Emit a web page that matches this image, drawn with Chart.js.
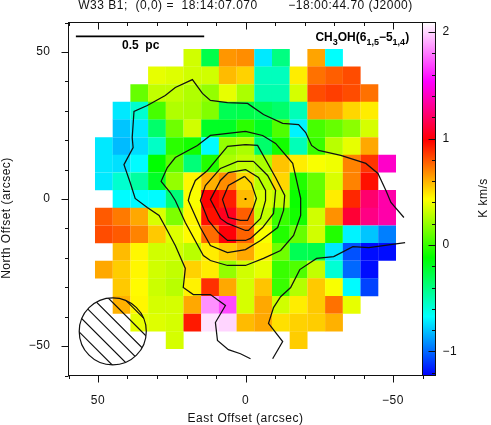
<!DOCTYPE html>
<html>
<head>
<meta charset="utf-8">
<style>
    body { margin: 0; background: #fff; }
    #mapa { position: absolute; left: 0; top: 0; }
    #barra { position: absolute; left: 422px; top: 0; }
</style>
<script src="https://cdn.jsdelivr.net/npm/chart.js@4/dist/chart.umd.js"></script>
</head>
<body>
<canvas id="mapa" width="491" height="425"></canvas>
<canvas id="barra" width="69" height="425"></canvas>
<script>
// Map grid, arcsec offsets
const xOffsets = [48, 42, 36, 30, 24, 18, 12, 6, 0, -6, -12, -18, -24, -30, -36, -42, -48];
const yOffsets = [48, 42, 36, 30, 24, 18, 12, 6, 0, -6, -12, -18, -24, -30, -36, -42, -48];

// Integrated intensity (K km/s), one row per yOffsets entry
const _ = null;
const cellValues = [
    [_, _, _, _, _, .33, -.28, .66, .68, -.72, -.4, _, .63, -.67, _, _, _],
    [_, _, _, .38, .36, .33, .33, .58, .53, -.53, -.53, .47, .74, .78, .82, _, _],
    [_, _, .1, .3, .3, .26, .2, .38, .25, -.5, -.5, .34, .82, .85, .82, .74, _],
    [_, -.72, -.57, .03, .26, .25, .16, -.3, -.28, -.3, -.35, -.52, .64, .62, .52, .47, _],
    [_, -.8, -.72, -.35, .12, .33, -.2, -.2, -.03, -.2, .05, -.7, .03, .1, .18, .34, _],
    [-.72, -.82, -.75, -.55, -.03, -.08, -.68, .2, .25, -.35, -.08, -.52, 0, .28, .38, .62, _],
    [-.72, -.74, -.68, -.12, .08, -.38, -.05, .25, .3, .25, .56, .47, .42, .4, .7, .87, 1.42],
    [-.72, -.57, -.47, -.2, .2, .45, .6, .68, .52, .28, .52, -.05, .1, .35, .7, .95, _],
    [_, -.68, -.68, -.68, -.38, .42, .98, .92, .58, .35, .3, -.1, .08, .47, .9, 1.22, 1.35],
    [.79, .72, .62, .35, .15, .45, .95, 1.05, .78, .3, 0, -.08, .33, .67, 1.1, 1.27, 1.35],
    [.82, .79, .7, .55, .36, .44, .75, 1, .77, .42, -.05, .1, .33, -.05, -.7, -.8, -.95],
    [_, .58, .45, .33, .33, .28, .47, .55, .62, .46, .12, -.3, -.28, -.72, -1.05, -1.2, -1.2],
    [.62, .54, .45, .33, .3, .53, .47, .2, .33, .38, 0, .05, .3, -.58, -1, -1.2, _],
    [_, .55, .44, .32, .28, .46, .88, .62, .34, .56, 0, .27, .55, .42, -.68, -1.08, _],
    [_, .6, .45, .34, .34, .62, 1.85, 1.7, .34, .62, .33, .47, .55, .74, .38, _, _],
    [_, _, .38, .36, .34, .93, 2.03, 2, .58, .62, .5, .53, .54, .6, _, _, _],
    [_, _, _, _, .34, _, _, _, _, _, _, .54, _, _, _, _, _]
];

// Contours as [x, y] in arcsec
const contourA = [[-53.7, -6.3], [-49.3, -1.2], [-47.6, 2.9], [-44.9, 8.7], [-40.8, 12.1], [-32.3, 14.8], [-24.8, 16.5], [-22.4, 18.2], [-20.4, 22.6], [-18, 25.3], [-12.6, 25.7], [-6.1, 28.7], [-.7, 32.5], [6.1, 32.8], [11.9, 33.5], [14.6, 35.9], [18, 40.6], [23.8, 37.9], [27.2, 35.2], [33.3, 31.8], [37.8, 29.8], [38.4, 20.9], [38.1, 17.5], [41.2, 11.7], [39.1, 5.6], [37.4, .2], [33.3, -2.9], [29.3, -5.6], [26.5, -10.7], [23.8, -15.8], [20.4, -23.6], [21.1, -30.1], [17.7, -32.5], [11.9, -32.5], [6.8, -36.2], [10.2, -42], [9.5, -48.1], [5.8, -51.2], [1.7, -52.6], [-1.7, -54.3]];
const contourB = [[-54.1, -14.8], [-41.8, -16.5], [-36.4, -16.2], [-29.9, -19.6], [-24.1, -20.2], [-18.4, -24], [-15.3, -30.1], [-11.9, -33.2], [-9.5, -36.9], [-7.8, -42.3], [-12.6, -48.5], [-9.2, -54.3]];
const contourC = [[0, 23], [11.9, 21.6], [16.3, 18.2], [23.8, 14.1], [26.5, 10.7], [28.6, 6], [25.5, 2.2], [23.8, -.5], [20.4, -8], [14.3, -19.2], [11.9, -20.9], [6.1, -22.6], [0, -22.6], [-6.1, -20.2], [-11.9, -17.5], [-16.3, -12.4], [-18.7, -5.6], [-18.7, .2], [-16, 12.1], [-10.2, 18.9], [-5.8, 21.6], [0, 23]];
const contourD = [[0, 18.5], [6.1, 17.9], [9.5, 13.8], [12.9, 9.7], [17, 6.3], [18.7, 2.2], [19.4, -.5], [15.3, -9.7], [11.9, -15.8], [6.1, -18.2], [0, -17.2], [-5.1, -14.1], [-10.9, -9.7], [-12.9, -3.9], [-13.3, 1.2], [-10.2, 7.3], [-4.1, 18.2], [0, 18.5]];
const contourE = [[-2.7, 12.8], [2.7, 12.8], [8.5, 10.4], [13.6, 4.6], [15.3, -.5], [12.6, -7.3], [9.2, -11.4], [6.1, -14.1], [0, -14.1], [-1.7, -13.4], [-5.8, -9.7], [-9.5, -4.9], [-10.2, 2.9], [-7.5, 8], [-2.7, 12.8]];
const contourF = [[0, 10], [5.8, 9], [8.5, 6.3], [11.9, -.2], [8.5, -6.6], [6.1, -8.3], [0, -10.7], [-1, -10.7], [-5.1, -6.6], [-6.8, -.5], [-6.8, 2.9], [-4.4, 7.3], [0, 10]];
const contourG = [[.3, 7.7], [5.8, 4.6], [7.8, -.2], [5.8, -6.3], [1.7, -7.3], [-.7, -7.3], [-2.7, -2.9], [-3.7, .2], [-2, 5.3], [.3, 7.7]];
const contours = [contourA, contourB, contourC, contourD, contourE, contourF, contourG];

// Scale bar and beam, arcsec
const scaleBar = [[57.5, 55.3], [14, 55.3]];
const beamCenter = [45, -45];
const beamRadius = 11.4;
const hatchOffsets = [11.6, 6.2, .9, -4.4, -9.8, -15];

// Axis ticks
const axisTicks = [-60, -50, -40, -30, -20, -10, 0, 10, 20, 30, 40, 50, 60];
const axisLabels = [-50, 0, 50];
const barMin = -1.226;
const barMax = 2.09;
const barLabels = [-1, 0, 1, 2];
const barTicks = [-1.2, -1, -.8, -.6, -.4, -.2, 0, .2, .4, .6, .8, 1, 1.2, 1.4, 1.6, 1.8, 2];

// Colour scale: blue, cyan, green, yellow, red, magenta, white
const mapColors = [[0, 0, 255], [0, 255, 255], [0, 255, 0], [255, 255, 0], [255, 0, 0], [255, 0, 255], [255, 255, 255]];

function colorFor(value) {
    const pos = Math.min(Math.max((value - barMin) / (barMax - barMin), 0), 1) * (mapColors.length - 1);
    const i = Math.min(Math.floor(pos), mapColors.length - 2);
    const t = pos - i;
    const rgb = mapColors[i].map((c, k) => Math.round(c + (mapColors[i + 1][k] - c) * t));
    return `rgb(${rgb[0]},${rgb[1]},${rgb[2]})`;
}

function minusLabel(value) {
    return String(value).replace('-', '\u2212');
}

const FONT = 'Liberation Sans';
const INK = '#111';
const SPACING = '0.5px';

// Build the cells
const cellPoints = [];
yOffsets.forEach((y, r) => {
    xOffsets.forEach((x, c) => {
        if (cellValues[r][c] !== null) cellPoints.push({ x: x, y: y, v: cellValues[r][c] });
    });
});

const datasets = [{
    data: cellPoints,
    order: 10,
    pointStyle: 'rect',
    pointRadius: 12.6,
    pointBorderWidth: 0,
    pointBackgroundColor: ctx => colorFor(ctx.raw.v),
    showLine: false
}];

contours.forEach(line => {
    datasets.push({
        data: line.map(p => ({ x: p[0], y: p[1] })),
        order: 1,
        showLine: true,
        pointRadius: 0,
        borderColor: INK,
        borderWidth: 1.25,
        tension: 0
    });
});

datasets.push({
    data: scaleBar.map(p => ({ x: p[0], y: p[1] })),
    order: 1,
    showLine: true,
    pointRadius: 0,
    borderColor: '#000',
    borderWidth: 1.6
});

// Reference position
datasets.push({
    data: [{ x: 0, y: 0 }],
    order: 1,
    pointStyle: 'rect',
    pointRadius: 1.3,
    pointBorderWidth: 0,
    pointBackgroundColor: '#000'
});

// Wider text spacing, as in the original plot
const textSpacing = {
    id: 'textSpacing',
    beforeDraw(chart) {
        chart.ctx.letterSpacing = SPACING;
    }
};

// Frame, ticks, beam and the labels inside the map
const mapaDecor = {
    id: 'mapaDecor',
    afterDatasetsDraw(chart) {
        const c = chart.ctx;
        const a = chart.chartArea;
        const sx = chart.scales.x;
        const sy = chart.scales.y;

        c.save();
        c.strokeStyle = INK;
        c.fillStyle = INK;
        c.lineWidth = 1;
        c.strokeRect(a.left, a.top, a.right - a.left, a.bottom - a.top);

        c.beginPath();
        axisTicks.forEach(v => {
            const major = v % 50 === 0;
            const len = major ? 7 : 3.5;
            const px = Math.round(sx.getPixelForValue(v)) + .5;
            c.moveTo(px, a.bottom);
            c.lineTo(px, a.bottom + len);
            c.moveTo(px, a.top);
            c.lineTo(px, a.top + len);
            const py = Math.round(sy.getPixelForValue(v)) + .5;
            c.moveTo(a.left, py);
            c.lineTo(a.left - len, py);
        });
        c.stroke();

        // Beam with its hatching
        const bx = sx.getPixelForValue(beamCenter[0]);
        const by = sy.getPixelForValue(beamCenter[1]);
        const br = sy.getPixelForValue(0) - sy.getPixelForValue(beamRadius);
        const unit = br / beamRadius;
        c.lineWidth = 1.2;
        c.beginPath();
        c.arc(bx, by, br, 0, Math.PI * 2);
        c.stroke();
        c.save();
        c.clip();
        c.beginPath();
        hatchOffsets.forEach(k => {
            const off = k * unit;
            c.moveTo(bx - 60, by - 60 + off);
            c.lineTo(bx + 60, by + 60 + off);
        });
        c.stroke();
        c.restore();

        // Y axis title sits below the middle of the frame
        c.save();
        c.font = `12px "${FONT}"`;
        c.textAlign = 'center';
        c.textBaseline = 'middle';
        c.translate(7, 218);
        c.rotate(-Math.PI / 2);
        c.fillText('North Offset (arcsec)', 0, 0);
        c.restore();

        // Labels
        c.textBaseline = 'alphabetic';
        c.textAlign = 'left';
        c.font = `bold 12px "${FONT}"`;
        c.fillStyle = '#000';
        c.letterSpacing = '0px';
        c.fillText('0.5  pc', 122, sy.getPixelForValue(51));

        let tx = sx.getPixelForValue(-23.7);
        const ty = sy.getPixelForValue(53.7);
        const parts = [['CH', 0], ['3', 1], ['OH(6', 0], ['1,5', 1], ['\u22125', 0], ['1,4', 1], [')', 0]];
        parts.forEach(p => {
            c.font = p[1] ? `bold 9px "${FONT}"` : `bold 12px "${FONT}"`;
            c.fillText(p[0], tx, ty + (p[1] ? 3.5 : 0));
            tx += c.measureText(p[0]).width;
        });
        c.restore();
    }
};

new Chart(document.getElementById('mapa'), {
    type: 'scatter',
    data: { datasets: datasets },
    plugins: [textSpacing, mapaDecor],
    options: {
        responsive: false,
        animation: false,
        events: [],
        plugins: {
            legend: { display: false },
            tooltip: { enabled: false },
            title: {
                display: true,
                text: 'W33 B1;  (0,0) =  18:14:07.070        \u221218:00:44.70 (J2000)',
                color: INK,
                font: { family: FONT, size: 12, weight: 'normal' },
                padding: { top: -2, bottom: 10.1 }
            }
        },
        scales: {
            x: {
                type: 'linear',
                reverse: true,
                min: -60,
                max: 60,
                afterBuildTicks: s => { s.ticks = axisLabels.map(v => ({ value: v })); },
                afterFit: s => { s.height = 49.5; },
                grid: { display: false, drawTicks: false },
                border: { display: false },
                ticks: {
                    color: INK,
                    maxRotation: 0,
                    autoSkip: false,
                    padding: 18,
                    font: { family: FONT, size: 12 },
                    callback: minusLabel
                },
                title: {
                    display: true,
                    text: 'East Offset (arcsec)',
                    color: INK,
                    font: { family: FONT, size: 12 },
                    padding: { top: 0, bottom: -1 }
                }
            },
            y: {
                type: 'linear',
                min: -60,
                max: 60,
                afterBuildTicks: s => { s.ticks = axisLabels.map(v => ({ value: v })); },
                // tick padding would otherwise push the frame down from the title
                afterFit: s => { s.width = 68.5; s.paddingTop = 0; s.paddingBottom = 0; },
                grid: { display: false, drawTicks: false },
                border: { display: false },
                ticks: {
                    color: INK,
                    autoSkip: false,
                    padding: 18,
                    font: { family: FONT, size: 12 },
                    callback: minusLabel
                }
            },
            // Empty axis, keeps room for the colour bar canvas
            barGap: {
                type: 'linear',
                position: 'right',
                afterFit: s => { s.width = 68.5; s.paddingTop = 0; s.paddingBottom = 0; },
                grid: { display: false, drawTicks: false },
                border: { display: false },
                ticks: { display: false }
            }
        }
    }
});

// Colour bar on its own canvas
const barraDecor = {
    id: 'barraDecor',
    afterDatasetsDraw(chart) {
        const c = chart.ctx;
        const a = chart.chartArea;
        const sy = chart.scales.y;
        c.save();
        c.strokeStyle = INK;
        c.lineWidth = 1;
        c.strokeRect(a.left, a.top, a.right - a.left, a.bottom - a.top);
        c.beginPath();
        barTicks.forEach(v => {
            const len = barLabels.includes(v) ? 7 : 3.5;
            const py = Math.round(sy.getPixelForValue(v)) + .5;
            c.moveTo(a.right, py);
            c.lineTo(a.right - len, py);
        });
        c.stroke();
        c.fillStyle = INK;
        c.font = `12px "${FONT}"`;
        c.textAlign = 'center';
        c.textBaseline = 'middle';
        c.translate(62, 198);
        c.rotate(-Math.PI / 2);
        c.fillText('K km/s', 0, 0);
        c.restore();
    }
};

function barGradient(ctx) {
    const a = ctx.chart.chartArea;
    if (!a) return '#000';
    const g = ctx.chart.ctx.createLinearGradient(0, a.bottom, 0, a.top);
    mapColors.forEach((col, i) => {
        g.addColorStop(i / (mapColors.length - 1), `rgb(${col[0]},${col[1]},${col[2]})`);
    });
    return g;
}

new Chart(document.getElementById('barra'), {
    type: 'bar',
    data: {
        labels: [''],
        datasets: [{
            data: [[barMin, barMax]],
            backgroundColor: barGradient,
            barPercentage: 1,
            categoryPercentage: 1
        }]
    },
    plugins: [textSpacing, barraDecor],
    options: {
        responsive: false,
        animation: false,
        events: [],
        layout: { padding: { top: 22.5, bottom: 49.5, left: .5, right: 0 } },
        plugins: { legend: { display: false }, tooltip: { enabled: false } },
        scales: {
            x: { display: false },
            y: {
                position: 'right',
                min: barMin,
                max: barMax,
                afterBuildTicks: s => { s.ticks = barLabels.map(v => ({ value: v })); },
                afterFit: s => { s.width = 55.5; },
                grid: { display: false, drawTicks: false },
                border: { display: false },
                ticks: {
                    color: INK,
                    padding: 7,
                    font: { family: FONT, size: 12 },
                    callback: minusLabel
                }
            }
        }
    }
});
</script>
</body>
</html>
